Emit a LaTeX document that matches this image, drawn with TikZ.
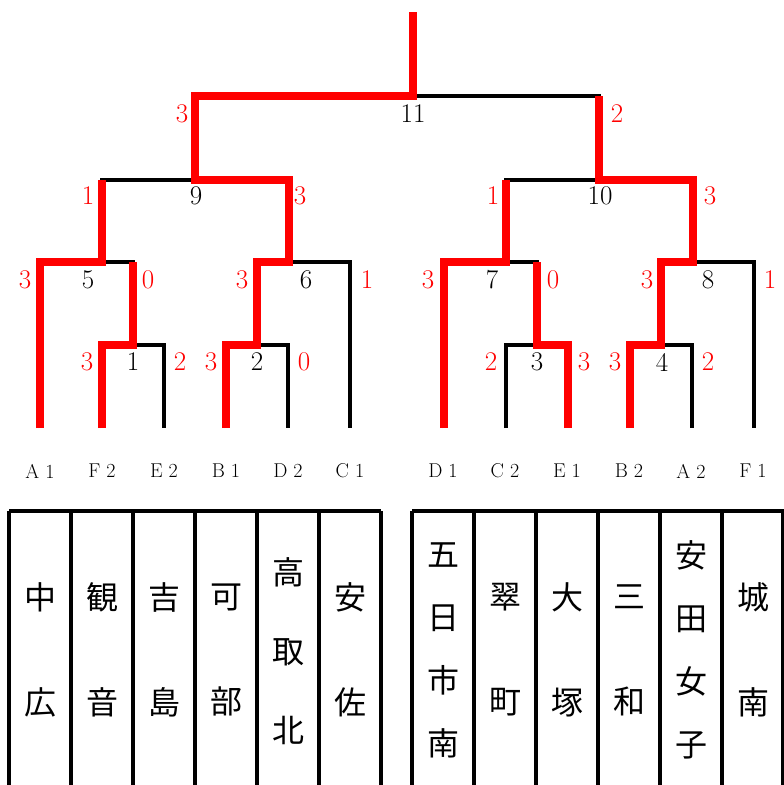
\documentclass[tikz,border=0pt]{standalone}
\usepackage{fontspec}
\newfontfamily\cjk{Noto Sans CJK JP}
\usetikzlibrary{positioning,calc}

\tikzset{
  line/.style={line width=3.2pt, black, line join=miter},
  win/.style={line width=8pt, red, line join=miter, line cap=butt},
  score/.style={red, inner sep=0pt, font=\fontsize{27}{30}\selectfont},
  matchno/.style={inner sep=0pt, font=\fontsize{27}{30}\selectfont},
  code/.style={inner sep=0pt, font=\fontsize{20}{24}\selectfont},
  school/.style={inner sep=0pt, align=center, font=\cjk\fontsize{32}{#1}\selectfont},
}

\begin{document}
\begin{tikzpicture}[x=1pt, y=-1pt]
    \useasboundingbox[fill=white] (0,0) rectangle (784,785);

    % leaves
    \coordinate (a1) at (40,428);  \coordinate (f2) at (102,428);
    \coordinate (e2) at (164,428); \coordinate (b1) at (226,428);
    \coordinate (d2) at (288,428); \coordinate (c1) at (350,428);
    \coordinate (d1) at (444,428); \coordinate (c2) at (506,428);
    \coordinate (e1) at (568,428); \coordinate (b2) at (630,428);
    \coordinate (a2) at (692,428); \coordinate (f1) at (754,428);

    % match points
    \coordinate (m1) at (133,345); \coordinate (m2) at (257,345);
    \coordinate (m3) at (537,345); \coordinate (m4) at (661,345);
    \coordinate (m5) at (102,262); \coordinate (m6) at (289,262);
    \coordinate (m7) at (506,262); \coordinate (m8) at (693,262);
    \coordinate (m9) at (195,180); \coordinate (m10) at (599,180);
    \coordinate (m11) at (413,96); \coordinate (top) at (413,12);

    % bracket
    \draw[line] (f2) |- (m1) -| (e2);
    \draw[line] (b1) |- (m2) -| (d2);
    \draw[line] (a1) |- (m5) -| (m1);
    \draw[line] (m2) |- (m6) -| (c1);
    \draw[line] (m5) |- (m9) -| (m6);
    \draw[line] (c2) |- (m3) -| (e1);
    \draw[line] (b2) |- (m4) -| (a2);
    \draw[line] (d1) |- (m7) -| (m3);
    \draw[line] (m4) |- (m8) -| (f1);
    \draw[line] (m7) |- (m10) -| (m8);
    \draw[line] (m9) |- (m11) -| (m10);
    \draw[line] (m11) -- (top);

    % winners
    \draw[win] (f2) |- (m1) -- (m1 |- m5);
    \draw[win] (a1) |- (m5) -- (m5 |- m9);
    \draw[win] (b1) |- (m2) |- (m6) |- (m9) |- (m11) -- (top);
    \draw[win] (e1) |- (m3) -- (m3 |- m7);
    \draw[win] (d1) |- (m7) -- (m7 |- m10);
    \draw[win] (b2) |- (m4) |- (m8) |- (m10) -- (m10 |- m11);

    % match numbers
    \node[matchno] (n1) at (133,362) {1};
    \node[matchno] (n2) at (257,362) {2};
    \node[matchno] (n3) at (537,362) {3};
    \node[matchno] (n4) at (662,362) {4};
    \node[matchno] (n5) at (88,280) {5};
    \node[matchno] (n6) at (306,280) {6};
    \node[matchno] (n7) at (492,280) {7};
    \node[matchno] (n8) at (708,280) {8};
    \node[matchno] (n9) at (196,196) {9};
    \node[matchno] (n10) at (600,196) {10};
    \node[matchno] (n11) at (413,114) {11};

    % scores
    \node[score] (s1l) at (87,362) {3};   \node[score] (s1r) at (180,362) {2};
    \node[score] (s2l) at (211,362) {3};  \node[score] (s2r) at (304,362) {0};
    \node[score] (s3l) at (491,362) {2};  \node[score] (s3r) at (584,362) {3};
    \node[score] (s4l) at (615,362) {3};  \node[score] (s4r) at (708,362) {2};
    \node[score] (s5l) at (25,280) {3};   \node[score] (s5r) at (148,280) {0};
    \node[score] (s6l) at (242,280) {3};  \node[score] (s6r) at (367,280) {1};
    \node[score] (s7l) at (428,280) {3};  \node[score] (s7r) at (553,280) {0};
    \node[score] (s8l) at (647,280) {3};  \node[score] (s8r) at (770,280) {1};
    \node[score] (s9l) at (88,196) {1};   \node[score] (s9r) at (300,196) {3};
    \node[score] (s10l) at (493,196) {1}; \node[score] (s10r) at (710,196) {3};
    \node[score] (s11l) at (182,114) {3}; \node[score] (s11r) at (617,114) {2};

    % team codes
    \foreach \x/\t [count=\i] in {40/A 1, 102/F 2, 164/E 2, 226/B 1, 288/D 2, 350/C 1,
        443/D 1, 505/C 2, 567/E 1, 629/B 2, 691/A 2, 753/F 1}
      \node[code] (code\i) at (\x,471) {\t};

    % school table
    \draw[line] (9,511) -- (381,511);
    \draw[line] (412,511) -- (784,511);
    \foreach \x in {9,71,133,195,257,319,381,412,474,536,598,660,722,783}
      \draw[line] (\x,511) -- (\x,785);

    \node[school=105] (sch1) at (40,650) {中\\広};
    \node[school=105] (sch2) at (102,650) {観\\音};
    \node[school=105] (sch3) at (164,650) {吉\\島};
    \node[school=105] (sch4) at (226,650) {可\\部};
    \node[school=79] (sch5) at (288,651) {高\\取\\北};
    \node[school=105] (sch6) at (350,650) {安\\佐};
    \node[school=63] (sch7) at (443,650) {五\\日\\市\\南};
    \node[school=105] (sch8) at (505,650) {翠\\町};
    \node[school=105] (sch9) at (567,650) {大\\塚};
    \node[school=105] (sch10) at (629,650) {三\\和};
    \node[school=63] (sch11) at (691,650) {安\\田\\女\\子};
    \node[school=105] (sch12) at (753,650) {城\\南};
\end{tikzpicture}
\end{document}
